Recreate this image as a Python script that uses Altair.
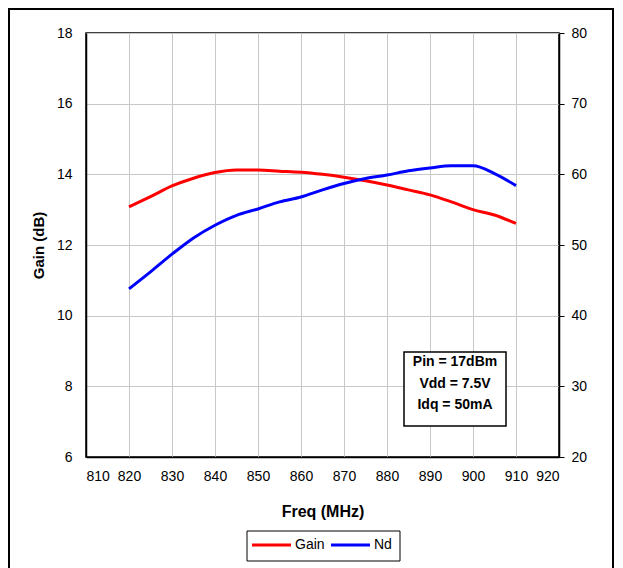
import altair as alt
import pandas as pd

freq = [820, 825, 830, 835, 840, 845, 850, 855, 860, 865, 870, 875, 880, 885, 890, 895, 900, 905, 910]
gain = [13.08, 13.37, 13.67, 13.89, 14.05, 14.12, 14.12, 14.09, 14.06, 14.00, 13.92, 13.82, 13.70, 13.56, 13.42, 13.22, 13.00, 12.85, 12.61]
nd = [43.8, 46.2, 48.7, 51.0, 52.8, 54.2, 55.1, 56.1, 56.8, 57.8, 58.7, 59.4, 59.9, 60.5, 60.9, 61.2, 61.2, 60.1, 58.4]

series = ["Gain", "Nd"]
colors = ["#ff0000", "#0000ff"]
x_ticks = list(range(810, 921, 10))
gain_ticks = list(range(6, 19, 2))
nd_ticks = list(range(20, 81, 10))
note_lines = ["Pin = 17dBm", "Vdd = 7.5V", "Idq = 50mA"]

df = pd.DataFrame({"freq": freq, "gain": gain, "nd": nd})

FONT = "Liberation Sans"

x_enc = alt.X("freq:Q",
              scale=alt.Scale(domain=[810, 920], nice=False, zero=False),
              axis=alt.Axis(values=x_ticks, title="Freq (MHz)", grid=True,
                            ticks=False, labelPadding=12, titlePadding=20,
                            titleFontSize=16, titleFontWeight="bold",
                            labelFontSize=14, format="d"))

gain_line = alt.Chart(df).mark_line(strokeWidth=3, interpolate="monotone",
                                    color=colors[0]).encode(
    x=x_enc,
    y=alt.Y("gain:Q",
            scale=alt.Scale(domain=[6, 18], nice=False, zero=False),
            axis=alt.Axis(values=gain_ticks, title="Gain (dB)", grid=True,
                          ticks=False, labelPadding=14, titlePadding=10,
                          titleFontSize=15, titleFontWeight="bold",
                          labelFontSize=14)),
)

nd_line = alt.Chart(df).mark_line(strokeWidth=3, interpolate="monotone",
                                  color=colors[1]).encode(
    x=alt.X("freq:Q", scale=alt.Scale(domain=[810, 920], nice=False, zero=False)),
    y=alt.Y("nd:Q",
            scale=alt.Scale(domain=[20, 80], nice=False, zero=False),
            axis=alt.Axis(values=nd_ticks, title=None, orient="right", grid=False,
                          ticks=True, tickSize=5, tickColor="black",
                          labelPadding=7, labelFontSize=14)),
)

one = alt.Data(values=[{"a": 1}])

frame = alt.Chart(one).mark_rect(fill=None, stroke="black", strokeWidth=2).encode(
    x=alt.value(-77), x2=alt.value(527), y=alt.value(-24), y2=alt.value(620))

note_box = alt.Chart(one).mark_rect(fill="white", stroke="black", strokeWidth=1.5).encode(
    x=alt.value(318), x2=alt.value(420), y=alt.value(319), y2=alt.value(393))

note_text = alt.Chart(one).mark_text(text=note_lines, font=FONT, fontSize=14,
                                     fontWeight="bold", align="center",
                                     baseline="middle", lineHeight=21.5).encode(
    x=alt.value(369), y=alt.value(329))

# legend (drawn as a box with line samples and labels)
legend_box = alt.Chart(one).mark_rect(fill="white", stroke="black", strokeWidth=1).encode(
    x=alt.value(161), x2=alt.value(314), y=alt.value(498), y2=alt.value(528))

legend_layers = [legend_box]
leg_x = [166, 245]
for name, col, lx in zip(series, colors, leg_x):
    legend_layers.append(
        alt.Chart(one).mark_rule(color=col, strokeWidth=3).encode(
            x=alt.value(lx), x2=alt.value(lx + 39), y=alt.value(512), y2=alt.value(512)))
    legend_layers.append(
        alt.Chart(one).mark_text(text=name, font=FONT, fontSize=14, align="left",
                                 baseline="middle", color="black").encode(
            x=alt.value(lx + 43), y=alt.value(512)))

chart = alt.layer(frame, gain_line, nd_line, note_box, note_text, *legend_layers).resolve_scale(
    y="independent"
).properties(
    width=473, height=424,
    autosize=alt.AutoSizeParams(type="none"),
    padding={"left": 78, "top": 25, "right": 55, "bottom": 140},
).configure_view(
    stroke="black", strokeWidth=1.5
).configure_axis(
    domainColor="black", domainWidth=1.5, gridColor="#c8c8c8", gridWidth=1,
    labelFont=FONT, titleFont=FONT, labelColor="black", titleColor="black"
)

chart.save("out.html", embed_options={"renderer": "svg", "actions": False})
